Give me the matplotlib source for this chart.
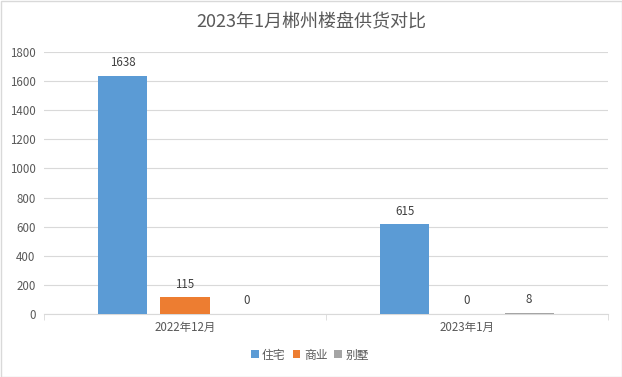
import matplotlib
matplotlib.use("Agg")
import matplotlib.pyplot as plt
import numpy as np

plt.rcParams['font.family'] = ['Noto Sans CJK SC', 'DejaVu Sans']

categories = ["2022年12月", "2023年1月"]
series_names = ["住宅", "商业", "别墅"]
residential = [1638, 615]
commercial = [115, 0]
villa = [0, 8]
colors = ["#5B9BD5", "#ED7D31", "#A5A5A5"]
yticks = [0, 200, 400, 600, 800, 1000, 1200, 1400, 1600, 1800]

fig = plt.figure(figsize=(6.22, 3.77), dpi=100)
ax = fig.add_axes([44/622, 63/377, 564/622, 262/377])

x = np.arange(len(categories))
bw = 0.174
step = 0.22
data = [residential, commercial, villa]
for i, (vals, c, name) in enumerate(zip(data, colors, series_names)):
    pos = x + (i - 1) * step
    ax.bar(pos, vals, width=bw, color=c, label=name, zorder=3)
    for p, v in zip(pos, vals):
        ax.text(p, v + 45, str(v), ha='center', va='bottom', fontsize=8.3, color='#404040')

ax.set_xlim(-0.5, 1.5)
ax.set_ylim(0, 1800)
ax.set_yticks(yticks)
ax.set_yticklabels([str(t) for t in yticks], fontsize=8.3, color='#595959')
ax.yaxis.grid(True, color='#D9D9D9', linewidth=0.8, zorder=0)
ax.tick_params(axis='y', length=0, pad=6)
ax.set_xticks(x)
ax.set_xticklabels(categories, fontsize=8.3, color='#595959')
ax.tick_params(axis='x', length=0, pad=5)
ax.set_xticks([-0.5, 0.5, 1.5], minor=True)
ax.tick_params(axis='x', which='minor', length=4, color='#D9D9D9')
for s in ['top', 'right', 'left']:
    ax.spines[s].set_visible(False)
ax.spines['bottom'].set_color('#D9D9D9')

fig.text(0.5, 1 - 22/377, "2023年1月郴州楼盘供货对比", ha='center', va='center', fontsize=13, color='#595959')

leg = fig.legend(loc='center', bbox_to_anchor=(310/622, 1 - 355/377), ncol=3, frameon=False,
                 fontsize=8.5, handlelength=0.65, handleheight=0.65, handletextpad=0.3, columnspacing=0.6)
for t in leg.get_texts():
    t.set_color('#595959')

border = plt.Rectangle((0.5/622, 0.5/377), 1 - 1/622, 1 - 1/377, transform=fig.transFigure,
                       fill=False, edgecolor='#D9D9D9', linewidth=1)
fig.patches.append(border)

fig.savefig("out.png", dpi=100)
